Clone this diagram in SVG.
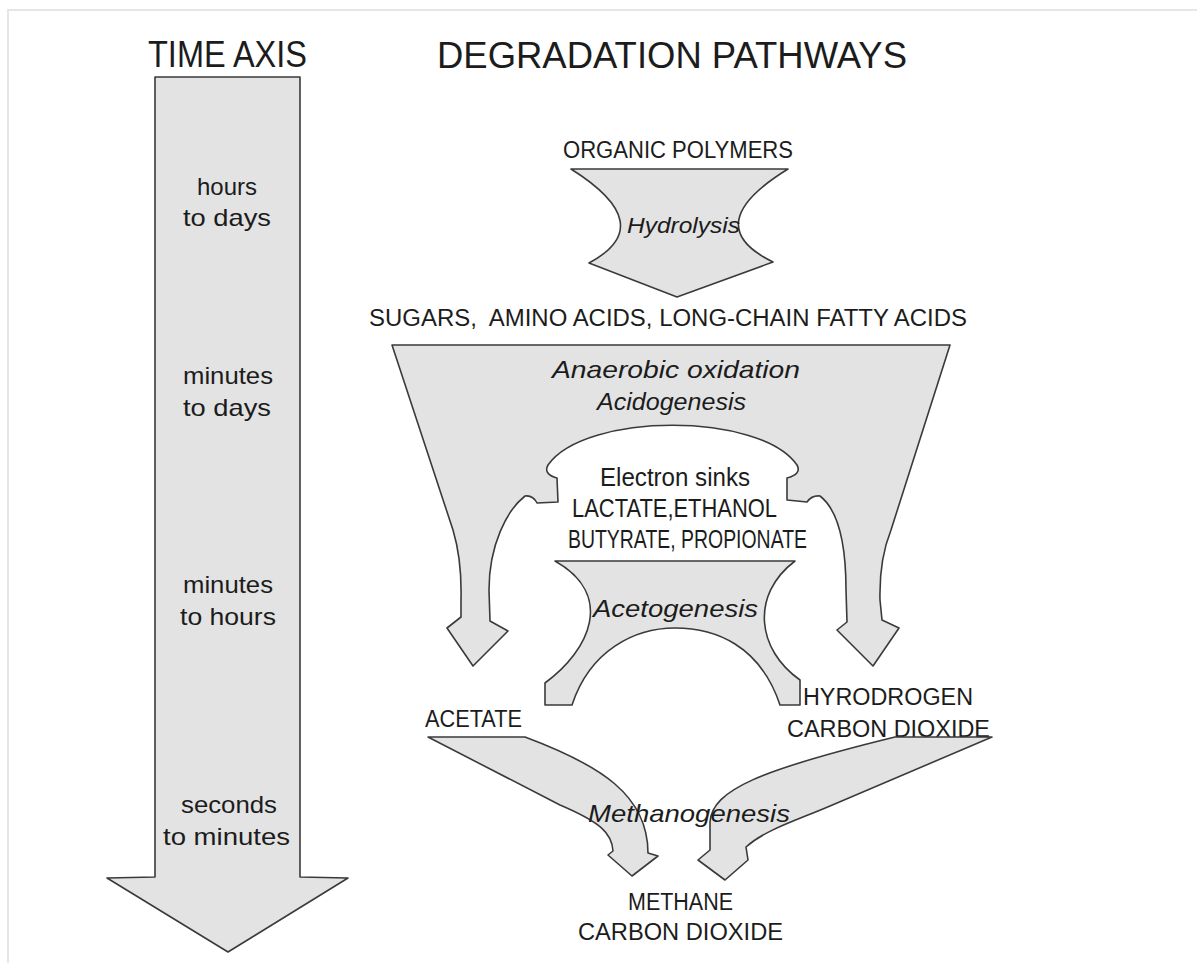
<svg xmlns="http://www.w3.org/2000/svg" width="1197" height="963" viewBox="0 0 1197 963">
<style>
.shape{fill:#e3e3e3;stroke:#3a3a3a;stroke-width:1.6;stroke-linejoin:round}
.t{font-family:"Liberation Sans",Arial,sans-serif;fill:#1c1c1c}
.it{font-style:italic}
.frame{stroke:#e6e6e6;stroke-width:2;fill:none}
</style>
<rect width="1197" height="963" fill="#ffffff"/>
<path class="frame" d="M8,963 L8,10 L1197,10"/>

<g id="titles">
<text class="t" x="148" y="67" font-size="37" textLength="159" lengthAdjust="spacingAndGlyphs">TIME AXIS</text>
<text class="t" x="437" y="68" font-size="37" textLength="470" lengthAdjust="spacingAndGlyphs">DEGRADATION PATHWAYS</text>
</g>

<g id="time-axis">
<path class="shape" d="M155,77 L300,77 L300,877 L348,878 L228,952 L107,878 L155,877 Z"/>
<text class="t" x="197" y="195" font-size="24" textLength="60" lengthAdjust="spacingAndGlyphs">hours</text>
<text class="t" x="183" y="226" font-size="24" textLength="88" lengthAdjust="spacingAndGlyphs">to days</text>
<text class="t" x="183" y="384" font-size="24" textLength="90" lengthAdjust="spacingAndGlyphs">minutes</text>
<text class="t" x="183" y="416" font-size="24" textLength="88" lengthAdjust="spacingAndGlyphs">to days</text>
<text class="t" x="183" y="593" font-size="24" textLength="90" lengthAdjust="spacingAndGlyphs">minutes</text>
<text class="t" x="180" y="625" font-size="24" textLength="96" lengthAdjust="spacingAndGlyphs">to hours</text>
<text class="t" x="181" y="813" font-size="24" textLength="96" lengthAdjust="spacingAndGlyphs">seconds</text>
<text class="t" x="163" y="845" font-size="24" textLength="127" lengthAdjust="spacingAndGlyphs">to minutes</text>
</g>

<g id="organic-polymers">
<text class="t" x="563" y="158" font-size="23" textLength="230" lengthAdjust="spacingAndGlyphs">ORGANIC POLYMERS</text>
</g>

<g id="hydrolysis">
<path class="shape" d="M571,169 L788,169 Q697,225 773,262 L677,297 L589,263 Q660,225 571,169 Z"/>
<text class="t it" x="627" y="233" font-size="22" textLength="113" lengthAdjust="spacingAndGlyphs">Hydrolysis</text>
</g>

<g id="monomers">
<text class="t" x="369" y="326" font-size="23" textLength="598" lengthAdjust="spacingAndGlyphs" xml:space="preserve">SUGARS,  AMINO ACIDS, LONG-CHAIN FATTY ACIDS</text>
</g>

<g id="acidogenesis">
<path class="shape" d="M392,345 L453,530 Q462,560 461,600 L461,617 L447,628 L473,666 L508,631 L490,621 L489,590 C489,545 507,510 525,496 Q533,495 537,503 L558,502 L557,478 Q543,474 548,465 C585,412 760,412 797,465 Q802,474 787,478 L787,500 L807,502 Q812,495 820,496 C838,510 846,545 846,590 L847,622 L837,630 L873,666 L899,628 L882,620 L880,600 Q879,560 891,530 L950,345 Z"/>
<text class="t it" x="552" y="378" font-size="24" textLength="248" lengthAdjust="spacingAndGlyphs">Anaerobic oxidation</text>
<text class="t it" x="597" y="410" font-size="24" textLength="149" lengthAdjust="spacingAndGlyphs">Acidogenesis</text>
</g>

<g id="electron-sinks">
<text class="t" x="600" y="486" font-size="25" textLength="150" lengthAdjust="spacingAndGlyphs">Electron sinks</text>
<text class="t" x="572" y="517" font-size="25" textLength="205" lengthAdjust="spacingAndGlyphs">LACTATE,ETHANOL</text>
<text class="t" x="568" y="548" font-size="25" textLength="239" lengthAdjust="spacingAndGlyphs">BUTYRATE, PROPIONATE</text>
</g>

<g id="acetogenesis">
<path class="shape" d="M555,561 L795,561 C750,595 757,650 800,680 L800,705 L780,705 C760,645 715,628 675,628 C635,628 590,650 572,705 L545,705 L545,683 C590,650 615,595 555,561 Z"/>
<text class="t it" x="593" y="617" font-size="24" textLength="165" lengthAdjust="spacingAndGlyphs">Acetogenesis</text>
</g>

<g id="acetate">
<text class="t" x="425" y="727" font-size="23" textLength="97" lengthAdjust="spacingAndGlyphs">ACETATE</text>
</g>

<g id="hydrogen-co2">
<text class="t" x="803" y="705" font-size="23" textLength="170" lengthAdjust="spacingAndGlyphs">HYRODROGEN</text>
<text class="t" x="787" y="737" font-size="23" textLength="203" lengthAdjust="spacingAndGlyphs">CARBON DIOXIDE</text>
</g>

<g id="connectors">
<path id="methanogenesis-left" class="shape" d="M428,737 L525,737 C600,765 648,795 648,853 L658,856 L632,876 L608,855 L613,851 C612,833 600,822 560,805 Z"/>
<path id="methanogenesis-right" class="shape" d="M895,737 L992,737 L830,806 C795,821 765,830 746,847 L748,860 L725,880 L698,860 L710,850 L710,822 C712,790 760,770 895,737 Z"/>
</g>

<g id="methanogenesis">
<text class="t it" x="588" y="822" font-size="24" textLength="202" lengthAdjust="spacingAndGlyphs">Methanogenesis</text>
</g>

<g id="products">
<text class="t" x="628" y="910" font-size="23" textLength="105" lengthAdjust="spacingAndGlyphs">METHANE</text>
<text class="t" x="578" y="940" font-size="23" textLength="205" lengthAdjust="spacingAndGlyphs">CARBON DIOXIDE</text>
</g>
</svg>
